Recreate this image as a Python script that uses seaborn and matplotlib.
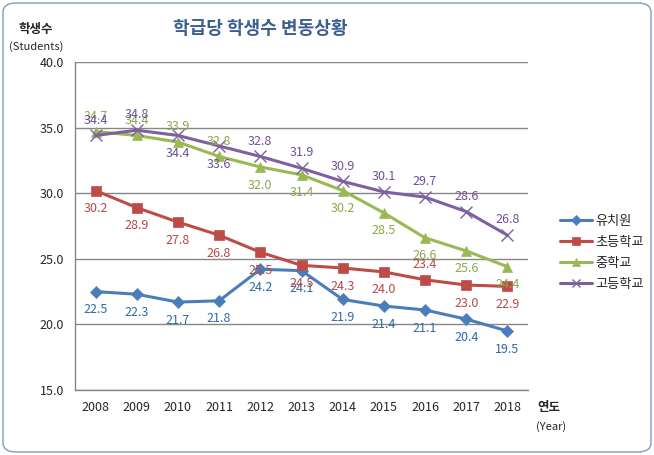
import pandas as pd
import seaborn as sns
import matplotlib.pyplot as plt
from matplotlib.patches import FancyBboxPatch
from matplotlib.ticker import MultipleLocator, FixedLocator

years = [2008, 2009, 2010, 2011, 2012, 2013, 2014, 2015, 2016, 2017, 2018]
kinder = [22.5, 22.3, 21.7, 21.8, 24.2, 24.1, 21.9, 21.4, 21.1, 20.4, 19.5]
elementary = [30.2, 28.9, 27.8, 26.8, 25.5, 24.5, 24.3, 24.0, 23.4, 23.0, 22.9]
middle = [34.7, 34.4, 33.9, 32.8, 32.0, 31.4, 30.2, 28.5, 26.6, 25.6, 24.4]
high = [34.4, 34.8, 34.4, 33.6, 32.8, 31.9, 30.9, 30.1, 29.7, 28.6, 26.8]
series_names = ["유치원", "초등학교", "중학교", "고등학교"]

sns.set_style("white")
plt.rcParams["font.family"] = ["Noto Sans CJK KR", "DejaVu Sans"]

colors = ["#4a7ebb", "#be4b48", "#98b954", "#7d60a0"]
label_colors = ["#2e6aa8", "#b84744", "#8aa84a", "#6f4f98"]
markers = ["D", "s", "^", "x"]
msizes = [6, 7.5, 7.5, 8]

rows = []
for name, vals in zip(series_names, [kinder, elementary, middle, high]):
    for i, v in enumerate(vals):
        rows.append({"pos": i, "year": years[i], "value": v, "series": name})
df = pd.DataFrame(rows)

fig = plt.figure(figsize=(6.54, 4.55), dpi=100)
ax = fig.add_axes([75 / 654, 1 - 390 / 455, (528 - 75) / 654, (390 - 62) / 455])

for k, name in enumerate(series_names):
    sub = df[df["series"] == name]
    sns.lineplot(data=sub, x="pos", y="value", ax=ax, color=colors[k],
                 marker=markers[k], markersize=msizes[k], linewidth=2.2,
                 markeredgecolor=colors[k], markeredgewidth=1.0 if k == 3 else 0.5,
                 label=name)

# data label placement: +1 above, -1 below
place = [
    [-1] * 11,
    [-1, -1, -1, -1, -1, -1, -1, -1, 1, -1, -1],
    [1, 1, 1, 1, -1, -1, -1, -1, -1, -1, -1],
    [1, 1, -1, -1, 1, 1, 1, 1, 1, 1, 1],
]
for k, vals in enumerate([kinder, elementary, middle, high]):
    for i, v in enumerate(vals):
        off = 11 if place[k][i] > 0 else -13
        ax.annotate(f"{v:.1f}", (i, v), xytext=(0, off), textcoords="offset points",
                    ha="center", va="center", fontsize=9, color=label_colors[k])

ax.set_xlim(-0.5, 10.5)
ax.set_ylim(15, 40)
ax.yaxis.set_major_locator(MultipleLocator(5))
ax.set_yticklabels([f"{t:.1f}" for t in ax.get_yticks()])
ax.set_xticks(range(len(years)))
ax.set_xticklabels([str(y) for y in years])
ax.xaxis.set_minor_locator(FixedLocator([i - 0.5 for i in range(12)]))
ax.tick_params(axis="x", which="major", length=0, pad=8, labelsize=9)
ax.tick_params(axis="x", which="minor", length=5, color="#868686", direction="out")
ax.tick_params(axis="y", length=4, color="#868686", direction="out", labelsize=9, pad=4)
ax.grid(axis="y", color="#868686", linewidth=1)
ax.set_axisbelow(True)
for s in ["top", "right"]:
    ax.spines[s].set_visible(False)
for s in ["left", "bottom"]:
    ax.spines[s].set_color("#868686")
    ax.spines[s].set_linewidth(1)
ax.set_xlabel("")
ax.set_ylabel("")

leg = ax.legend(loc="upper left", bbox_to_anchor=(548 / 654, 1 - 203 / 455),
                bbox_transform=fig.transFigure, frameon=False, fontsize=9.5,
                handlelength=2.4, handletextpad=0.3, labelspacing=0.6,
                markerscale=0.8)

fig.text(260 / 654, 1 - 28 / 455, "학급당 학생수 변동상황", ha="center", va="center",
         fontsize=13, fontweight="bold", color="#3b5f8f")
fig.text(36 / 654, 1 - 29 / 455, "학생수", ha="center", va="center", fontsize=9, fontweight="bold")
fig.text(36 / 654, 1 - 47 / 455, "(Students)", ha="center", va="center", fontsize=8)
fig.text(549 / 654, 1 - 407 / 455, "연도", ha="center", va="center", fontsize=9, fontweight="bold")
fig.text(551 / 654, 1 - 427 / 455, "(Year)", ha="center", va="center", fontsize=8)

fig.patches.append(FancyBboxPatch((3 / 654, 3 / 455), 648 / 654, 449 / 455,
                                  boxstyle="round,pad=0,rounding_size=0.02",
                                  transform=fig.transFigure, fill=False,
                                  edgecolor="#7f9cc0", linewidth=1))

fig.savefig("out.png", dpi=100)
